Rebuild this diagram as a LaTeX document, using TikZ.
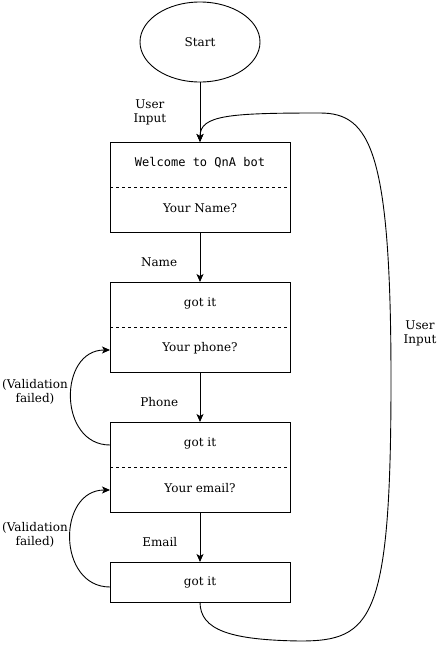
\documentclass[tikz,border=0pt]{standalone}
\usepackage{fontspec}
\setmainfont{DejaVu Serif}
\setmonofont{DejaVu Sans Mono}
\usetikzlibrary{shapes.geometric, arrows.meta, positioning}
\tikzstyle{block} = [rectangle, draw, minimum width=180pt, minimum height=90pt, inner sep=0pt, outer sep=0pt]
\tikzstyle{small block} = [block, minimum height=40pt]
\tikzstyle{divider} = [draw, dash pattern=on 3pt off 3pt]
\tikzstyle{line} = [draw, ->]

\begin{document}
\begin{tikzpicture}[x=1pt,y=-1pt,>={Stealth[length=8pt,width=7pt,inset=2pt]},node distance=50pt,font=\fontsize{12}{14}\selectfont,line width=0.9pt]
\useasboundingbox (0,0) rectangle (443,645);
\node[
  draw,
  ellipse,
  minimum width=120pt,
  minimum height=80pt,
  inner sep=0pt,
  outer sep=0pt
  ] (start) at (200,42) {Start};

\node[block, below=60pt of start] (welcome) {};
\node at ([yshift=24pt]welcome.center) (welcometxt) {\texttt{Welcome to QnA bot}};
\node at ([yshift=-21pt]welcome.center) (nameq) {Your Name?};
\draw[divider] (welcome.west) -- (welcome.east);

\node[block, below=of welcome] (phonebox) {};
\node at ([yshift=24pt]phonebox.center) (gotname) {got it};
\node at ([yshift=-21pt]phonebox.center) (phoneq) {Your phone?};
\draw[divider] (phonebox.west) -- (phonebox.east);

\node[block, below=of phonebox] (emailbox) {};
\node at ([yshift=24pt]emailbox.center) (gotphone) {got it};
\node at ([yshift=-21pt]emailbox.center) (emailq) {Your email?};
\draw[divider] (emailbox.west) -- (emailbox.east);

\node[small block, below=of emailbox] (done) {got it};

\path[line] (start.south) -- (welcome.north) node[midway, left=30pt, align=center] (ui1) {User\\Input};
\path[line] (welcome.south) -- (phonebox.north) node[midway, left=19pt, yshift=-5pt] (namelbl) {Name};
\path[line] (phonebox.south) -- (emailbox.north) node[midway, left=18pt, yshift=-5pt] (phonelbl) {Phone};
\path[line] (emailbox.south) -- (done.north) node[midway, left=19pt, yshift=-5pt] (emaillbl) {Email};

% validation loops
\path[line] ([yshift=22pt]emailbox.west) to[out=180, in=180, looseness=1.4] ([yshift=-23pt]phonebox.west);
\path[line] ([yshift=-5pt]done.west) to[out=180, in=180, looseness=1.4] ([yshift=-23pt]emailbox.west);
\node[align=center] (vf1) at (35,392) {(Validation\\failed)};
\node[align=center] (vf2) at (35,535) {(Validation\\failed)};

% back to the start
\path[line] (done.south) .. controls (200,630) and (230,640) .. (300,641)
  .. controls (372,641) and (391,620) .. (391,380)
  .. controls (391,150) and (370,113) .. (320,113)
  .. controls (230,113) and (200,115) .. (welcome.north);
\node[align=center] (ui2) at (420,333) {User\\Input};
\end{tikzpicture}
\end{document}
